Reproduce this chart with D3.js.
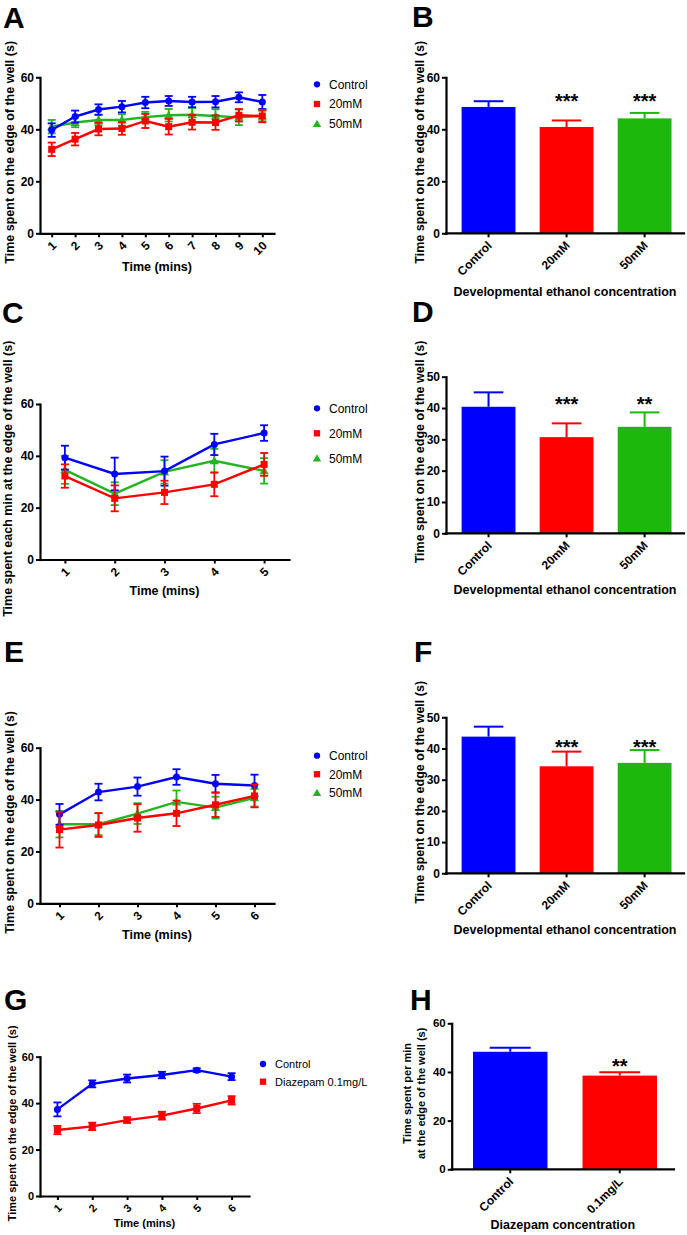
<!DOCTYPE html>
<html><head><meta charset="utf-8">
<script src="https://cdn.jsdelivr.net/npm/d3@7"></script>
<style>body{margin:0;background:#fff}svg{display:block}text{font-family:"Liberation Sans",Arial,Helvetica,sans-serif}</style>
</head><body><svg id="c" width="687" height="1235"></svg>
<script>
// ---------- DATA ----------
const minutesA = [1,2,3,4,5,6,7,8,9,10];
const controlA = [39.7,44.9,47.6,48.7,50.3,50.9,50.5,50.6,52.3,50.5];
const controlAErr = [2.6,2.3,2.0,2.2,2.2,1.9,2.0,2.2,1.9,2.7];
const mM20A = [32.3,36.2,40.1,40.3,43.2,41.0,42.7,42.6,45.4,45.1];
const mM20AErr = [2.6,2.4,2.4,2.4,2.7,3.0,2.8,2.8,2.4,2.4];
const mM50A = [41.0,42.6,43.6,43.6,44.7,45.4,45.6,45.1,44.6,45.1];
const mM50AErr = [2.6,1.8,2.0,2.2,2.0,2.4,2.6,2.6,3.0,2.0];

const minutesC = [1,2,3,4,5];
const controlC = [39.3,33.0,34.1,44.4,48.8];
const controlCErr = [4.6,6.3,5.6,4.1,3.0];
const mM20C = [32.2,23.6,25.9,29.0,36.7];
const mM20CErr = [4.5,5.0,4.5,4.6,4.4];
const mM50C = [34.6,25.4,33.8,38.1,34.2];
const mM50CErr = [5.4,4.4,4.5,4.6,4.9];

const minutesE = [1,2,3,4,5,6];
const controlE = [34.3,42.9,45.0,48.7,46.1,45.4];
const controlEErr = [4.0,3.2,3.5,3.0,3.4,4.2];
const mM20E = [28.4,30.2,32.9,34.7,38.0,41.4];
const mM20EErr = [6.9,4.6,5.3,4.9,4.7,4.4];
const mM50E = [30.5,30.5,34.6,39.1,36.9,40.7];
const mM50EErr = [5.1,4.2,4.0,4.4,4.2,3.4];

const minutesG = [1,2,3,4,5,6];
const controlG = [37.3,48.3,50.6,52.1,54.2,51.4];
const controlGErr = [3.0,1.5,1.7,1.4,0.8,1.5];
const diazepamG = [28.4,30.0,32.7,34.6,37.7,41.2];
const diazepamGErr = [1.8,1.6,1.2,1.7,2.0,1.8];

const ethanolGroups = ["Control","20mM","50mM"];
const barsB = [48.6,40.9,44.2];
const barsBErr = [2.2,2.5,2.1];
const sigB = ["","***","***"];
const barsD = [40.4,30.7,34.0];
const barsDErr = [4.6,4.4,4.6];
const sigD = ["","***","**"];
const barsF = [43.8,34.3,35.4];
const barsFErr = [3.2,4.7,4.1];
const sigF = ["","***","***"];
const diazepamGroups = ["Control","0.1mg/L"];
const barsH = [48.3,38.5];
const barsHErr = [1.7,1.4];
const sigH = ["","**"];

const ticks60 = [0,20,40,60];
const ticks50 = [0,10,20,30,40,50];

const legendEthanol = ["Control","20mM","50mM"];
const legendDiazepam = ["Control","Diazepam 0.1mg/L"];

// ---------- STYLE ----------
const BLUE="#0000ff", RED="#ff0000", GREEN="#22b522", BARGREEN="#1cb80c";
const svg = d3.select("#c");

function letter(t,x,y){
  svg.append("text").attr("x",x).attr("y",y).attr("font-size",30).attr("font-weight","bold").attr("fill","#000").text(t);
}
function styleAxis(g, fs){
  g.select(".domain").attr("stroke","#000").attr("stroke-width",2.2).attr("stroke-linecap","square");
  g.selectAll(".tick line").attr("stroke","#000").attr("stroke-width",2);
  g.selectAll(".tick text").attr("font-size",fs).attr("font-weight","bold").attr("fill","#000")
    .attr("font-family",'"Liberation Sans",Arial,sans-serif');
}
function yLabel(text, x, cy, fs){
  svg.append("text").attr("transform",`translate(${x},${cy}) rotate(-90)`)
    .attr("text-anchor","middle").attr("font-size",fs).attr("font-weight","bold").text(text);
}
function marker(g, shape, cx, cy, color, s){
  if(shape==="circle") g.append("circle").attr("cx",cx).attr("cy",cy).attr("r",3.5*s).attr("fill",color);
  else if(shape==="square") g.append("rect").attr("x",cx-3.5*s).attr("y",cy-3.5*s).attr("width",7*s).attr("height",7*s).attr("fill",color);
  else g.append("path").attr("d",d3.symbol(d3.symbolTriangle).size(38*s*s)()).attr("transform",`translate(${cx},${cy+0.8})`).attr("fill",color);
}

function lineChart(cfg){
  const x = d3.scaleLinear().domain([0.5, cfg.cats.length+0.5]).range([cfg.x0, cfg.x1]);
  const y = d3.scaleLinear().domain([0, cfg.yMax]).range([cfg.yBot, cfg.yTop]);
  const g = svg.append("g");
  cfg.series.forEach(s=>{
    const pts = cfg.cats.map((c,i)=>({x:c, v:s.values[i], e:s.errs[i]}));
    const sg = g.append("g");
    pts.forEach(p=>{
      const px = x(p.x);
      sg.append("line").attr("x1",px).attr("x2",px).attr("y1",y(p.v-p.e)).attr("y2",y(p.v+p.e)).attr("stroke",s.color).attr("stroke-width",1.8);
      [p.v-p.e, p.v+p.e].forEach(vv=>sg.append("line").attr("x1",px-4).attr("x2",px+4).attr("y1",y(vv)).attr("y2",y(vv)).attr("stroke",s.color).attr("stroke-width",1.8));
    });
    sg.append("path").datum(pts).attr("fill","none").attr("stroke",s.color).attr("stroke-width",2.4)
      .attr("d",d3.line().x(d=>x(d.x)).y(d=>y(d.v)));
    pts.forEach(p=>marker(sg, s.shape, x(p.x), y(p.v), s.color, 1));
  });
  const gx = svg.append("g").attr("transform",`translate(0,${cfg.yBot})`)
    .call(d3.axisBottom(x).tickValues(cfg.cats).tickFormat(d=>d).tickSize(4).tickSizeOuter(0));
  styleAxis(gx, cfg.fs);
  gx.selectAll(".tick text").attr("x",0).attr("y",0).attr("dy","0.35em").attr("text-anchor","end")
    .attr("transform","translate(2,10) rotate(-45)");
  const gy = svg.append("g").attr("transform",`translate(${cfg.x0},0)`)
    .call(d3.axisLeft(y).tickValues(cfg.yTicks).tickSize(4).tickPadding(2).tickSizeOuter(0));
  styleAxis(gy, cfg.fs);
  svg.append("text").attr("x",(cfg.x0+cfg.x1)/2).attr("y",cfg.titleY).attr("text-anchor","middle")
    .attr("font-size",cfg.titleFs).attr("font-weight","bold").text(cfg.xTitle);
  yLabel(cfg.yTitle, cfg.yLabelX, (cfg.yTop+cfg.yBot)/2-3, cfg.titleFs);
  cfg.legendSeries.forEach((s,i)=>{
    const ly = cfg.legY + i*cfg.legDy;
    marker(svg, s.shape, cfg.legX, ly, s.color, 0.9);
    svg.append("text").attr("x",cfg.legTextX).attr("y",ly+cfg.legFs*0.36).attr("font-size",cfg.legFs).text(s.name);
  });
  letter(cfg.letter, cfg.letterX, cfg.letterY);
}

function barChart(cfg){
  const x = d3.scaleBand().domain(cfg.cats).range([cfg.x0, cfg.x1]).paddingInner(cfg.pi).paddingOuter(cfg.po).align(0.556);
  const y = d3.scaleLinear().domain([0, cfg.yMax]).range([cfg.yBot, cfg.yTop]);
  const bw = x.bandwidth();
  cfg.cats.forEach((c,i)=>{
    const v = cfg.values[i], e = cfg.errs[i], col = cfg.colors[i];
    const cx = x(c) + bw/2;
    svg.append("line").attr("x1",cx).attr("x2",cx).attr("y1",y(v)).attr("y2",y(v+e)).attr("stroke",col).attr("stroke-width",2);
    svg.append("line").attr("x1",cx-bw*0.275).attr("x2",cx+bw*0.275).attr("y1",y(v+e)).attr("y2",y(v+e)).attr("stroke",col).attr("stroke-width",2);
    svg.append("rect").attr("x",x(c)).attr("y",y(v)).attr("width",bw).attr("height",y(0)-y(v)).attr("fill",col);
  });
  const starTop = d3.max(cfg.values.map((v,i)=>cfg.sig[i]? v+cfg.errs[i] : 0));
  cfg.cats.forEach((c,i)=>{
    if(!cfg.sig[i]) return;
    svg.append("text").attr("x",x(c)+bw/2).attr("y",y(starTop)-cfg.starGap+11).attr("text-anchor","middle")
      .attr("font-size",20).attr("font-weight","bold").text(cfg.sig[i]);
  });
  const gx = svg.append("g").attr("transform",`translate(0,${cfg.yBot})`)
    .call(d3.axisBottom(x).tickSize(4).tickSizeOuter(0));
  gx.select(".domain").attr("d",`M${cfg.axisX0},0H${cfg.x1}`);
  styleAxis(gx, 12);
  gx.selectAll(".tick text").attr("x",0).attr("y",0).attr("dy","0.35em").attr("text-anchor","end")
    .attr("transform","translate(1,10) rotate(-45)");
  const gy = svg.append("g").attr("transform",`translate(${cfg.axisX0},0)`)
    .call(d3.axisLeft(y).tickValues(cfg.yTicks).tickSize(4).tickPadding(2).tickSizeOuter(0));
  styleAxis(gy, cfg.tickFs);
  svg.append("text").attr("x",(cfg.axisX0+cfg.x1)/2).attr("y",cfg.titleY).attr("text-anchor","middle")
    .attr("font-size",12.5).attr("font-weight","bold").text(cfg.xTitle);
  const cy = (cfg.yTop+cfg.yBot)/2-3;
  if(Array.isArray(cfg.yTitle)){
    svg.append("text").attr("transform",`translate(${cfg.yLabelX},${cy}) rotate(-90)`)
      .attr("text-anchor","middle").attr("font-size",11).attr("font-weight","bold")
      .selectAll("tspan").data(cfg.yTitle).join("tspan").attr("x",0).attr("dy",(d,i)=>i? "1.2em":"-0.6em").text(d=>d);
  } else yLabel(cfg.yTitle, cfg.yLabelX, cy, 12.5);
  letter(cfg.letter, cfg.letterX, cfg.letterY);
}

// drawing order: 50mM (green), Control (blue), 20mM (red); legend order: Control, 20mM, 50mM
function ethSeries(c,ce,r,re,g,ge){
  const ctl = {name:legendEthanol[0], values:c, errs:ce, color:BLUE, shape:"circle"};
  const m20 = {name:legendEthanol[1], values:r, errs:re, color:RED, shape:"square"};
  const m50 = {name:legendEthanol[2], values:g, errs:ge, color:GREEN, shape:"triangle"};
  return {draw:[m50, ctl, m20], legend:[ctl, m20, m50]};
}

const sA = ethSeries(controlA,controlAErr,mM20A,mM20AErr,mM50A,mM50AErr);
lineChart({cats:minutesA, series:sA.draw, legendSeries:sA.legend, x0:40, x1:274, yTop:77.3, yBot:233.3, yMax:60, yTicks:ticks60, fs:12, titleFs:12.5,
  xTitle:"Time (mins)", titleY:271, yTitle:"Time spent on the edge of the well (s)", yLabelX:14,
  legX:317, legTextX:329, legY:84.3, legDy:19.7, legFs:12, letter:"A", letterX:3, letterY:28});

const sC = ethSeries(controlC,controlCErr,mM20C,mM20CErr,mM50C,mM50CErr);
lineChart({cats:minutesC, series:sC.draw, legendSeries:sC.legend, x0:40, x1:289, yTop:404, yBot:559.5, yMax:60, yTicks:ticks60, fs:12, titleFs:12.5,
  xTitle:"Time (mins)", titleY:594.5, yTitle:"Time spent each min at the edge of the well (s)", yLabelX:12,
  legX:317, legTextX:329, legY:408.3, legDy:25, legFs:12, letter:"C", letterX:2, letterY:323});

const sE = ethSeries(controlE,controlEErr,mM20E,mM20EErr,mM50E,mM50EErr);
lineChart({cats:minutesE, series:sE.draw, legendSeries:sE.legend, x0:40, x1:274, yTop:747.7, yBot:903.3, yMax:60, yTicks:ticks60, fs:12, titleFs:12.5,
  xTitle:"Time (mins)", titleY:939, yTitle:"Time spent on the edge of the well (s)", yLabelX:14,
  legX:317, legTextX:329, legY:755.7, legDy:18.5, legFs:12, letter:"E", letterX:4, letterY:662});

const gCtl = {name:legendDiazepam[0], values:controlG, errs:controlGErr, color:BLUE, shape:"circle"};
const gDz = {name:legendDiazepam[1], values:diazepamG, errs:diazepamGErr, color:RED, shape:"square"};
lineChart({cats:minutesG, series:[gCtl, gDz], legendSeries:[gCtl, gDz], x0:40, x1:249, yTop:1056.7, yBot:1196, yMax:60, yTicks:ticks60, fs:11, titleFs:11,
  xTitle:"Time (mins)", titleY:1227, yTitle:"Time spent on the edge of the well (s)", yLabelX:16,
  legX:263, legTextX:275, legY:1064, legDy:17.7, legFs:11, letter:"G", letterX:4, letterY:1010});

const ethColors = [BLUE, RED, BARGREEN];
barChart({cats:ethanolGroups, values:barsB, errs:barsBErr, sig:sigB, colors:ethColors, axisX0:446, x0:446, x1:684, pi:0.31, po:0.18,
  yTop:77.3, yBot:233.3, yMax:60, yTicks:ticks60, tickFs:12, starGap:15.7, xTitle:"Developmental ethanol concentration", titleY:296,
  yTitle:"Time spent on the edge of the well (s)", yLabelX:424, letter:"B", letterX:412, letterY:27});
barChart({cats:ethanolGroups, values:barsD, errs:barsDErr, sig:sigD, colors:ethColors, axisX0:446, x0:446, x1:684, pi:0.31, po:0.18,
  yTop:376.7, yBot:533.3, yMax:50, yTicks:ticks50, tickFs:12, starGap:12.3, xTitle:"Developmental ethanol concentration", titleY:594,
  yTitle:"Time spent on the edge of the well (s)", yLabelX:424, letter:"D", letterX:412, letterY:322});
barChart({cats:ethanolGroups, values:barsF, errs:barsFErr, sig:sigF, colors:ethColors, axisX0:446, x0:446, x1:684, pi:0.31, po:0.18,
  yTop:717.3, yBot:873.3, yMax:50, yTicks:ticks50, tickFs:12, starGap:7, xTitle:"Developmental ethanol concentration", titleY:934,
  yTitle:"Time spent on the edge of the well (s)", yLabelX:424, letter:"F", letterX:414, letterY:662});
barChart({cats:diazepamGroups, values:barsH, errs:barsHErr, sig:sigH, colors:[BLUE, RED], axisX0:451.7, x0:451.7, x1:674, pi:0.32, po:0.175,
  yTop:1023.3, yBot:1169.3, yMax:60, yTicks:ticks60, tickFs:11.5, starGap:10, xTitle:"Diazepam concentration", titleY:1229,
  yTitle:["Time spent per min","at the edge of the well (s)"], yLabelX:418, letter:"H", letterX:410, letterY:1010});
</script></body></html>
